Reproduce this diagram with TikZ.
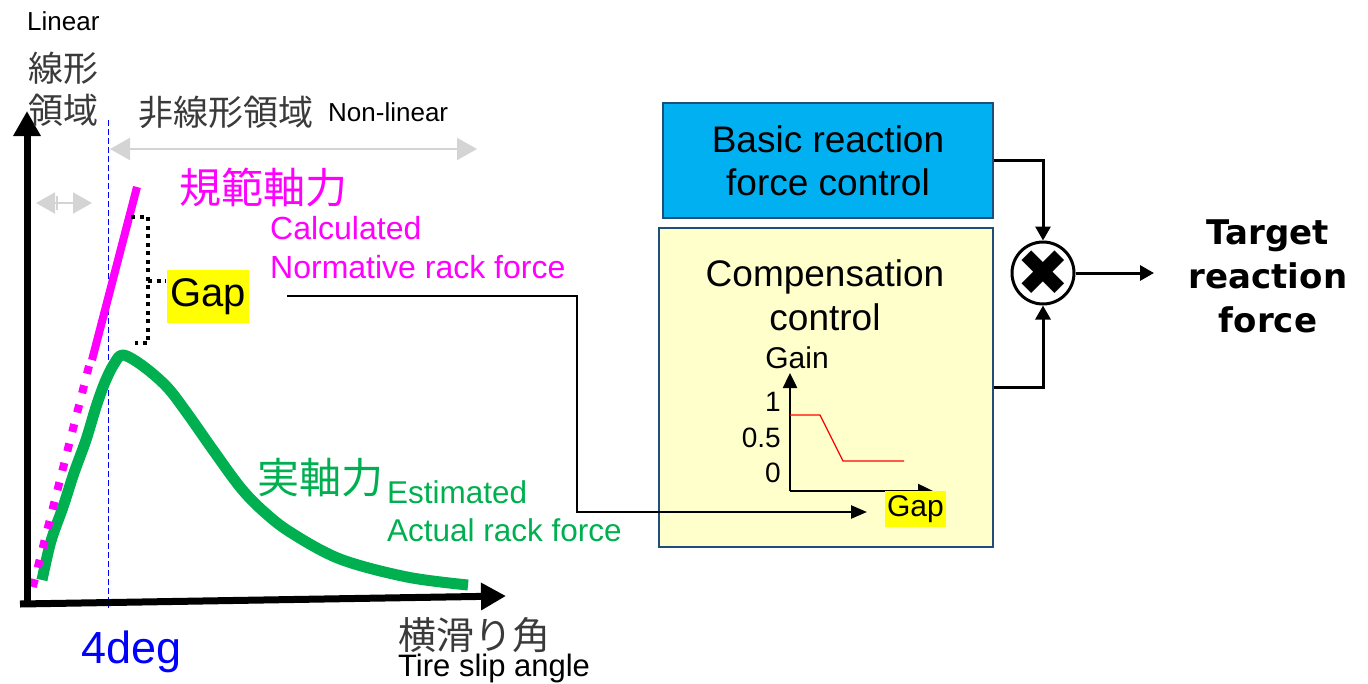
\documentclass[tikz,border=0pt]{standalone}
\usepackage{fontspec}
\setmainfont{Liberation Sans}
\newfontfamily\cjkfont{Noto Sans CJK JP}
\newfontfamily\symfont{DejaVu Sans}
\usetikzlibrary{arrows.meta}

\definecolor{mag}{HTML}{FF00FF}
\definecolor{grn}{HTML}{00B050}
\definecolor{cjkgray}{HTML}{3A3A3A}
\definecolor{basicblue}{HTML}{00B0F0}
\definecolor{compyel}{HTML}{FFFFCC}
\definecolor{boxline}{HTML}{1F4E79}
\definecolor{hint}{HTML}{D4D4D4}
\definecolor{gapyel}{HTML}{FFFF00}

\newcommand\fsz[2]{\fontsize{#1pt}{#2pt}\selectfont}

\begin{document}
\begin{tikzpicture}[x=1pt,y=-1pt,
  txt/.style={inner sep=0pt, anchor=west},
  gapbox/.style={fill=gapyel, inner xsep=3pt, inner ysep=0pt, minimum height=#1},
  block/.style={draw=boxline, line width=2pt, inner sep=0pt},
  conn/.style={line width=3pt, -{Triangle[length=14pt,width=15pt]}},
  link/.style={line width=2.5pt, -{Triangle[length=16pt,width=13pt]}},
  axis/.style={line width=7pt, -{Triangle[length=25pt,width=26pt]}},
  minor axis/.style={line width=2.5pt, -{Triangle[length=15pt,width=14pt]}},
  span/.style={hint, line width=2pt,
    {Triangle[length=20pt,width=22pt]}-{Triangle[length=20pt,width=22pt]}},
  bracket/.style={line width=4pt, dash pattern=on 4pt off 4.5pt},
]
\useasboundingbox (0,0) rectangle (1368,683);

% ---------------- rack force chart ----------------
% region markers
\draw[blue, line width=1pt, dash pattern=on 6pt off 3pt] (108,120) -- (108,608);
\draw[span] (110,149) -- (477,149);
\draw[hint, line width=2pt,
  {Triangle[length=19pt,width=21pt]}-{Triangle[length=19pt,width=21pt]}] (36,203) -- (92,203);
\draw[hint, line width=2pt] (57,196) -- (57,210);

% estimated actual rack force
\draw[grn, line width=11pt, line join=round] plot[smooth, tension=0.55] coordinates {
  (42,580) (51,541) (63,507) (74,473) (86,440) (96,407) (105,382) (114,364)
  (123,355) (143,366) (167,387) (187,413) (213,450) (240,487) (262,510)
  (290,532) (340,559) (407,577) (468,585)};

% normative rack force (linear model)
\draw[mag, line width=8pt] (137,187) -- (92,360);
\draw[mag, line width=8pt, dash pattern=on 8pt off 12pt] (89,366) -- (31,594);

% gap bracket
\draw[bracket] (131,217) -- (148,217) -- (148,343) -- (135,343);
\draw[bracket] (148,281) -- (166,281);

% axes
\coordinate (org) at (27,607);
\coordinate (ytop) at (27,111);
\coordinate (xorg) at (20,604);
\coordinate (xend) at (506,596);
\draw[axis] (org) -- (ytop);
\draw[axis] (xorg) -- (xend);

% labels
\node[txt, font=\fsz{26}{31}] (lin) at (27,21) {Linear};
\node[txt, font=\cjkfont\fsz{35}{42}, text=cjkgray, align=left] (linjp) at (28,89) {線形\\領域};
\node[txt, font=\cjkfont\fsz{35}{42}, text=cjkgray] (nljp) at (138,112) {非線形領域};
\node[txt, font=\fsz{26}{31}] (nl) at (328,112) {Non-linear};
\node[txt, font=\cjkfont\fsz{42}{50}, text=mag] (normjp) at (179,188) {規範軸力};
\node[txt, font=\fsz{32}{39}, text=mag, align=left] (norm) at (270,248) {Calculated\\Normative rack force};
\node[gapbox=53pt, font=\fsz{40}{48}] (gap) at (208,296.5) {Gap};
\node[txt, font=\cjkfont\fsz{42}{50}, text=grn] (actjp) at (257,478) {実軸力};
\node[txt, font=\fsz{31.5}{38}, text=grn, align=left] (act) at (387,511) {Estimated\\Actual rack force};
\node[txt, font=\fsz{45}{54}, text=blue] (deg) at (81,652) {4deg};
\node[txt, font=\cjkfont\fsz{38}{46}, text=cjkgray] (slipjp) at (398,635) {横滑り角};
\node[inner sep=0pt, anchor=base west, font=\fsz{31}{37}] (slip) at (398,676) {Tire slip angle};

% ---------------- control blocks ----------------
\node[block, fill=basicblue, minimum width=330pt, minimum height=115pt,
  font=\fsz{37}{43}, align=center] (basic) at (828,160.5) {Basic reaction\\force control};
\node[block, fill=compyel, minimum width=334pt, minimum height=319pt] (comp) at (826,387.5) {};
\node[inner sep=0pt, font=\fsz{37}{44}, align=center] (comptxt) at (825,295) {Compensation\\control};

% gain map
\coordinate (gorg) at (790,491);
\coordinate (gtop) at (790,373);
\coordinate (gright) at (933,491);
\draw[minor axis] (gorg) -- (gtop);
\draw[minor axis] (gorg) -- (gright);
\draw[red, line width=1.3pt] (790,415) -- (820,415) -- (843,461) -- (904,461);
\node[inner sep=0pt, font=\fsz{30}{36}] (gain) at (797,358) {Gain};
\node[inner sep=0pt, anchor=east, font=\fsz{28}{34}] (g1) at (781,402) {1};
\node[inner sep=0pt, anchor=east, font=\fsz{28}{34}] (g05) at (781,438) {0.5};
\node[inner sep=0pt, anchor=east, font=\fsz{28}{34}] (g0) at (781,473) {0};
\node[gapbox=36pt, font=\fsz{30}{36}, inner xsep=2pt] (gapin) at (915.5,509) {Gap};

% gap signal into the compensation block
\coordinate (gs) at (287,296);
\coordinate (gturn) at (577,512);
\coordinate (gend) at (867,512);
\draw[link] (gs) -| (gturn) -- (gend);

% multiplier and output
\node[circle, draw, line width=3pt, fill=white, minimum size=62pt, inner sep=0pt] (mul) at (1043,273) {};
\node[inner sep=0pt, font=\symfont\fsz{64}{64}] (mulx) at (mul.center) {✖};
\draw[conn] (basic.east) -| (mul.north);
\draw[conn] (comp.east) -| (mul.south);
\coordinate (out) at (1154,273);
\draw[conn] (mul.east) -- (out);
\node[inner sep=0pt, font=\symfont\bfseries\fsz{34}{44}, align=center] (tgt) at (1268,276)
  {Target\\reaction\\force};
\end{tikzpicture}
\end{document}
